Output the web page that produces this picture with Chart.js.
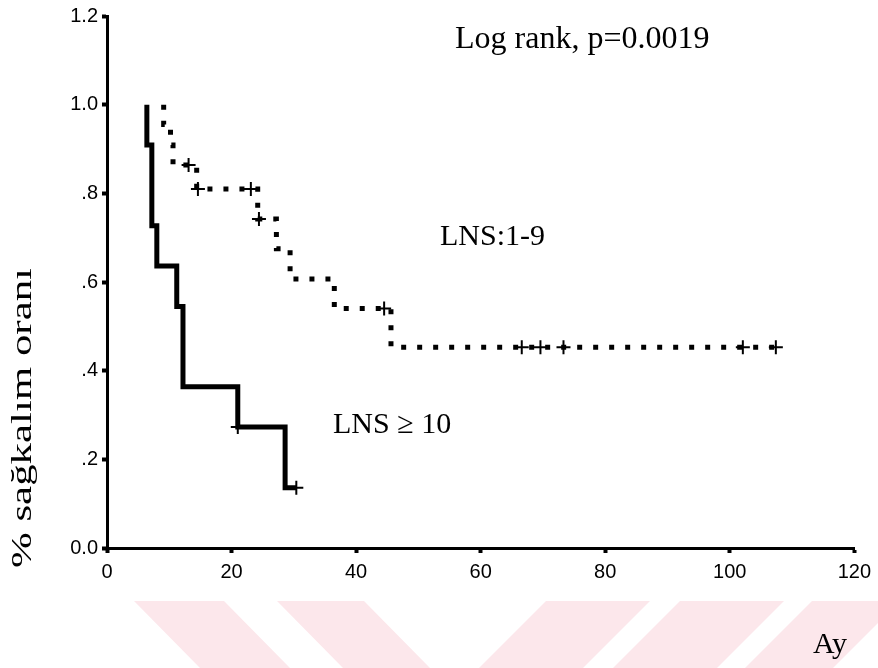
<!DOCTYPE html>
<html><head><meta charset="utf-8">
<script src="https://cdn.jsdelivr.net/npm/chart.js@4"></script>
<style>html,body{margin:0;padding:0;background:#fff}</style>
</head><body>
<canvas id="c" width="878" height="668"></canvas>
<script>
// LNS >= 10 (solid)
const solidTimes = [6.4, 6.4, 7.2, 8.0, 11.2, 12.2, 21.0, 28.6, 30.4];
const solidSurv  = [1.0, 0.909, 0.727, 0.636, 0.545, 0.364, 0.273, 0.136, 0.136];
const solidCensorTimes = [21.0, 30.4];
const solidCensorSurv  = [0.273, 0.136];
// LNS 1-9 (dotted)
const dotTimes = [9.1, 9.1, 10.2, 10.6, 14.4, 24.2, 27.2, 29.4, 36.5, 45.6, 107.4];
const dotSurv  = [1.0, 0.955, 0.909, 0.864, 0.810, 0.742, 0.675, 0.607, 0.540, 0.453, 0.453];
const dotCensorTimes = [13.1, 14.6, 23.1, 24.4, 44.5, 66.6, 69.6, 73.3, 102.1, 107.4];
const dotCensorSurv  = [0.864, 0.810, 0.810, 0.742, 0.540, 0.453, 0.453, 0.453, 0.453, 0.453];
const xTicks = [0, 20, 40, 60, 80, 100, 120];
const yTickLabels = ['0.0', '.2', '.4', '.6', '.8', '1.0', '1.2'];
const annotations = ['Log rank, p=0.0019', 'LNS:1-9', 'LNS \u2265 10'];
const xTitle = 'Ay';
const yTitle = '% sa\u011fkal\u0131m oran\u0131';

const pts = (t, s) => t.map((v, i) => ({x: v, y: s[i]}));

const stripes = {
  id: 'stripes',
  beforeDraw(chart) {
    const ctx = chart.ctx;
    ctx.save();
    ctx.fillStyle = 'rgb(252,231,235)';
    const polys = [
      [[134,601],[224,601],[290,668],[200,668]],
      [[277,601],[364,601],[430,668],[343,668]],
      [[546,601],[650,601],[583,668],[479,668]],
      [[680,601],[784,601],[717,668],[613,668]],
      [[812,601],[900,601],[833,668],[745,668]]
    ];
    polys.forEach(p => {
      ctx.beginPath();
      ctx.moveTo(p[0][0], p[0][1]);
      for (let i = 1; i < p.length; i++) ctx.lineTo(p[i][0], p[i][1]);
      ctx.closePath();
      ctx.fill();
    });
    ctx.restore();
  }
};

const texts = {
  id: 'texts',
  afterDraw(chart) {
    const ctx = chart.ctx;
    ctx.save();
    ctx.fillStyle = '#000';
    ctx.textBaseline = 'middle';
    ctx.textAlign = 'left';
    ctx.font = '32px "Liberation Serif", "Times New Roman", serif';
    ctx.fillText(annotations[0], 455, 40);
    ctx.font = '30px "Liberation Serif", "Times New Roman", serif';
    ctx.fillText(annotations[1], 440, 237);
    ctx.fillText(annotations[2], 333, 425);
    ctx.fillText(xTitle, 813, 645);
    ctx.translate(23, 418);
    ctx.rotate(-Math.PI / 2);
    ctx.textAlign = 'center';
    ctx.font = '30px "Liberation Serif", "Times New Roman", serif';
    const w = ctx.measureText(yTitle).width;
    ctx.scale(300 / w, 1);
    ctx.fillText(yTitle, 0, 0);
    ctx.restore();
  }
};

new Chart(document.getElementById('c'), {
  data: {
    datasets: [
      { type: 'line', data: pts(solidTimes, solidSurv), stepped: 'before', borderColor: '#000',
        borderWidth: 5, pointRadius: 0, fill: false, borderJoinStyle: 'miter' },
      { type: 'line', data: pts(dotTimes, dotSurv), stepped: 'before', borderColor: '#000',
        borderWidth: 5, borderDash: [5, 11], borderCapStyle: 'butt', pointRadius: 0, fill: false },
      { type: 'scatter', data: pts(solidCensorTimes, solidCensorSurv), pointStyle: 'cross',
        pointRadius: 7, borderColor: '#000', borderWidth: 2, showLine: false },
      { type: 'scatter', data: pts(dotCensorTimes, dotCensorSurv), pointStyle: 'cross',
        pointRadius: 7, borderColor: '#000', borderWidth: 2, showLine: false }
    ]
  },
  options: {
    responsive: false,
    animation: false,
    devicePixelRatio: 1,
    layout: { padding: { left: 0, top: 12, right: 21, bottom: 0 } },
    plugins: { legend: { display: false }, tooltip: { enabled: false } },
    scales: {
      x: {
        type: 'linear', min: 0, max: 120,
        afterFit: s => { s.height = 120; },
        afterBuildTicks: s => { s.ticks = xTicks.map(v => ({value: v})); },
        ticks: { color: '#000', padding: 7, maxRotation: 0,
                 font: { family: '"Liberation Sans", Arial, sans-serif', size: 20 } },
        grid: { drawOnChartArea: false, drawTicks: true, tickLength: 5, tickWidth: 4, tickColor: '#000' },
        border: { display: true, color: '#000', width: 3 }
      },
      y: {
        type: 'linear', min: 0, max: 1.2,
        afterFit: s => { s.width = 107; },
        ticks: { stepSize: 0.2, color: '#000', padding: 4,
                 callback: v => yTickLabels[Math.round(v / 0.2)],
                 font: { family: '"Liberation Sans", Arial, sans-serif', size: 20 } },
        grid: { drawOnChartArea: false, drawTicks: true, tickLength: 5, tickWidth: 4, tickColor: '#000' },
        border: { display: true, color: '#000', width: 3 }
      }
    }
  },
  plugins: [stripes, texts]
});
</script>
</body></html>
